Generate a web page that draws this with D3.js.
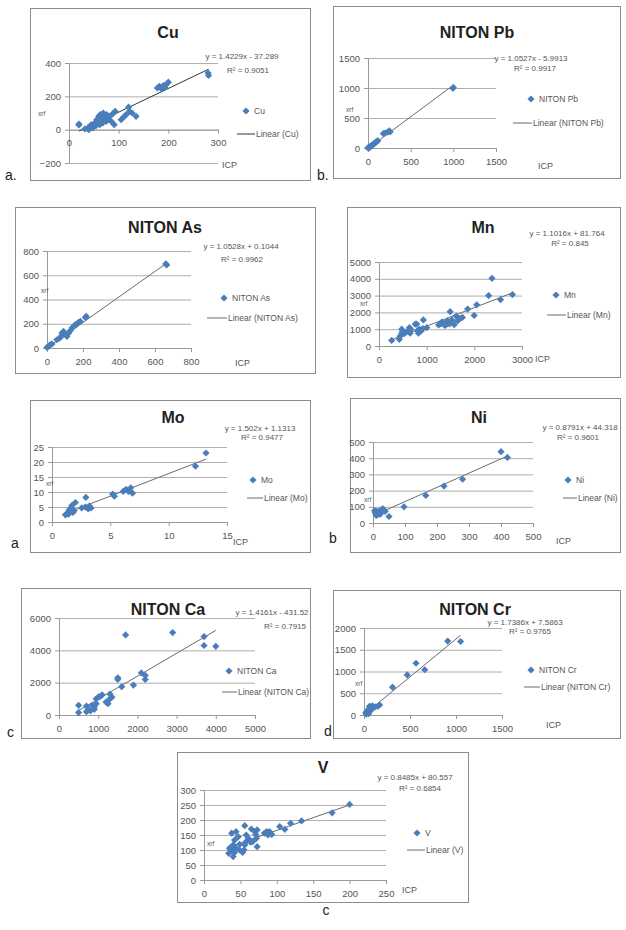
<!DOCTYPE html>
<html>
<head>
<meta charset="utf-8">
<script src="https://cdn.jsdelivr.net/npm/d3@7"></script>
<style>
  html, body { margin: 0; padding: 0; background: #fff; }
  svg { display: block; }
  text { font-family: "Liberation Sans", Arial, sans-serif; }
</style>
</head>
<body>
<svg id="fig" width="626" height="930"></svg>
<script>
// ---------- measured values: [ICP, XRF] pairs per element ----------
const cuPoints = [[20,34],[20,28],[32,4],[38,10],[40,0],[42,20],[45,30],[48,10],[50,18],[52,40],[55,25],[56,60],[58,45],[60,80],[62,30],[63,90],[65,55],[66,70],[68,40],[69,100],[72,65],[73,80],[75,50],[76,90],[78,70],[79,60],[82,80],[85,50],[88,95],[91,30],[93,110],[105,60],[110,75],[115,90],[120,135],[122,110],[127,100],[135,80],[178,250],[182,260],[186,245],[190,265],[193,255],[197,275],[200,285],[280,340],[281,325]];
const pbPoints = [[0,0],[5,8],[10,3],[15,18],[20,12],[28,25],[35,30],[45,45],[55,50],[65,65],[75,75],[85,90],[95,100],[105,115],[115,120],[180,240],[200,250],[230,265],[250,285],[260,270],[1000,1010],[995,995]];
const asPoints = [[0,5],[9,14],[18,27],[28,33],[55,68],[70,82],[80,96],[83,123],[92,137],[102,110],[111,96],[120,123],[129,142],[139,164],[148,178],[157,192],[166,197],[175,211],[185,219],[213,252],[218,260],[660,693],[665,685]];
const mnPoints = [[266,330],[427,400],[441,580],[476,760],[498,870],[476,1000],[526,730],[568,820],[617,910],[638,1090],[666,1000],[652,760],[760,1300],[792,1310],[806,910],[827,760],[848,1000],[883,900],[920,1040],[930,1550],[1002,1090],[1250,1250],[1296,1310],[1317,1420],[1338,1400],[1367,1270],[1388,1220],[1409,1360],[1423,1310],[1437,1490],[1458,1420],[1479,1310],[1493,2040],[1528,1550],[1577,1270],[1619,1780],[1647,1490],[1703,1640],[1750,1700],[1860,2200],[1997,1820],[2050,2450],[2300,3000],[2370,4030],[2550,2760],[2800,3060]];
const moPoints = [[1.15,2.4],[1.3,2.8],[1.4,2.6],[1.45,3.9],[1.55,3.3],[1.6,4.6],[1.7,3.9],[1.7,5.5],[1.8,3.2],[1.9,3.8],[2.0,6.5],[2.55,4.7],[2.85,5.0],[2.9,8.2],[3.1,4.4],[3.2,5.3],[3.35,4.7],[5.2,9.3],[5.35,8.6],[6.1,10.2],[6.35,10.9],[6.55,10.2],[6.75,11.4],[6.9,9.6],[12.3,18.6],[13.2,23.0]];
const niPoints = [[5,76],[7,62],[10,47],[12,72],[15,51],[18,62],[21,76],[23,55],[25,68],[28,82],[31,88],[35,76],[38,72],[50,40],[97,100],[165,170],[222,228],[280,270],[400,440],[420,405]];
const caPoints = [[500,600],[500,150],[700,550],[700,200],[750,350],[800,250],[850,600],[900,350],[900,500],[950,700],[950,1000],[1000,1100],[1050,1150],[1100,1250],[1200,800],[1250,700],[1300,1000],[1300,1300],[1350,1100],[1500,2300],[1500,2200],[1600,1750],[1700,4950],[1900,1850],[2100,2600],[2200,2450],[2200,2200],[2900,5100],[3700,4850],[3700,4300],[4000,4250]];
const crPoints = [[20,50],[25,20],[30,80],[35,60],[40,100],[45,120],[50,30],[60,150],[60,200],[70,180],[80,120],[90,210],[100,170],[120,190],[150,200],[170,230],[310,640],[470,920],[565,1190],[660,1040],[910,1700],[1050,1690]];
const vPoints = [[34,89],[35,106],[38,156],[38,100],[40,117],[40,78],[42,133],[42,92],[44,161],[44,106],[47,144],[49,119],[49,100],[53,92],[55,100],[56,181],[56,117],[58,150],[58,128],[61,139],[64,126],[65,170],[67,128],[70,161],[71,152],[72,139],[73,167],[73,111],[83,156],[86,161],[88,150],[90,161],[93,152],[104,178],[111,169],[119,189],[134,197],[176,224],[200,252]];

// ---------- linear fits: [slope, intercept, R²] ----------
const cuFit = [1.4229, -37.289, 0.9051];
const pbFit = [1.0527, -5.9913, 0.9917];
const asFit = [1.0528, 0.1044, 0.9962];
const mnFit = [1.1016, 81.764, 0.845];
const moFit = [1.502, 1.1313, 0.9477];
const niFit = [0.8791, 44.318, 0.9601];
const caFit = [1.4161, -431.52, 0.7915];
const crFit = [1.7386, 7.5863, 0.9765];
const vFit  = [0.8485, 80.557, 0.6854];

// ---------- axis tick values ----------
const cuTicksX = [0,100,200,300],          cuTicksY = [-200,0,200,400];
const pbTicksX = [0,500,1000,1500],        pbTicksY = [0,500,1000,1500];
const asTicksX = [0,200,400,600,800],      asTicksY = [0,200,400,600,800];
const mnTicksX = [0,1000,2000,3000],       mnTicksY = [0,1000,2000,3000,4000,5000];
const moTicksX = [0,5,10,15],              moTicksY = [0,5,10,15,20,25];
const niTicksX = [0,100,200,300,400,500],  niTicksY = [0,100,200,300,400,500];
const caTicksX = [0,1000,2000,3000,4000,5000], caTicksY = [0,2000,4000,6000];
const crTicksX = [0,500,1000,1500],        crTicksY = [0,500,1000,1500,2000];
const vTicksX  = [0,50,100,150,200,250],   vTicksY  = [0,50,100,150,200,250,300];

// ---------- panel layout (pixel geometry only) ----------
// box: frame rect; px/py: plot range in px; titleAt, eq, r2: anchors;
// leg: [markerX, markerY, lineX1, lineX2, lineY]; xrf / icp: caption anchors; tag: panel letter
const panels = [
  { title:"Cu", name:"Cu", pts:cuPoints, fit:cuFit, tx:cuTicksX, ty:cuTicksY, trend:"#333",
    box:[30,8,280,172], px:[69,218], py:[163,63], titleAt:[168,38], eq:[242,59], r2:[248,73],
    leg:[246,111,237,255,134], xrf:[38,116], icp:[222,168], tag:["a.",5,180], tagAnchor:"start" },
  { title:"NITON Pb", name:"NITON Pb", pts:pbPoints, fit:pbFit, tx:pbTicksX, ty:pbTicksY,
    box:[333,6,287,172], px:[368,496], py:[148,58], titleAt:[477,38], eq:[531,61], r2:[535,71],
    leg:[531,99,513,532,123], xrf:[346,112], icp:[538,169], tag:["b.",317,180], tagAnchor:"start" },
  { title:"NITON As", name:"NITON As", pts:asPoints, fit:asFit, tx:asTicksX, ty:asTicksY,
    box:[15,207,300,166], px:[47,191], py:[348,251], titleAt:[165,233], eq:[241,249], r2:[242,262],
    leg:[224,298,207,227,318], xrf:[41,293], icp:[235,366], tag:null },
  { title:"Mn", name:"Mn", pts:mnPoints, fit:mnFit, tx:mnTicksX, ty:mnTicksY,
    box:[347,207,273,170], px:[379,522], py:[346,262], titleAt:[483,233], eq:[567,236], r2:[570,246],
    leg:[556,295,547,566,315], xrf:[360,305.5], icp:[535,362], tag:null },
  { title:"Mo", name:"Mo", pts:moPoints, fit:moFit, tx:moTicksX, ty:moTicksY,
    box:[30,400,280,152], px:[52,227], py:[522,447], titleAt:[173,423], eq:[260,431], r2:[262,440],
    leg:[253,480,247,263,498], xrf:[46,486], icp:[233,545], tag:["a",11,548], tagAnchor:"start" },
  { title:"Ni", name:"Ni", pts:niPoints, fit:niFit, tx:niTicksX, ty:niTicksY,
    box:[350,398,270,154], px:[373,533], py:[523,442], titleAt:[479,423], eq:[580,430], r2:[578,440],
    leg:[568,480,563,577,498], xrf:[364,502], icp:[556,544], tag:["b",329,543], tagAnchor:"start" },
  { title:"NITON Ca", name:"NITON Ca", pts:caPoints, fit:caFit, tx:caTicksX, ty:caTicksY,
    box:[21,588,289,150], px:[59,255], py:[715,618], titleAt:[168,615], eq:[272,615], r2:[285,629],
    leg:[229,671,222,237,692], xrf:null, icp:null, tag:["c",7,737], tagAnchor:"start" },
  { title:"NITON Cr", name:"NITON Cr", pts:crPoints, fit:crFit, tx:crTicksX, ty:crTicksY,
    box:[333,590,287,148], px:[364,502], py:[715,628], titleAt:[475,615], eq:[525,625], r2:[530,634],
    leg:[531,670,524,540,687], xrf:[355,686], icp:[546,728], tag:["d",324,736], tagAnchor:"start" },
  { title:"V", name:"V", pts:vPoints, fit:vFit, tx:vTicksX, ty:vTicksY,
    box:[177,752,291,150], px:[204,386], py:[880,790], titleAt:[323,773], eq:[415,780], r2:[420,791],
    leg:[417,833,407,425,850], xrf:[207,846], icp:[402,893], tag:["c",326,915], tagAnchor:"middle" }
];

const BLUE = "#4a7ebb", GRID = "#9a9a9a", FRAME = "#8c8c8c", TXT = "#555", TREND = "#6b6b6b";
const fig = d3.select("#fig");
fig.append("rect").attr("width", 626).attr("height", 930).attr("fill", "#fff");

const diamond = d3.symbol().type(d3.symbolSquare).size(26);
const plain = d3.format("");
const fmtEq = f => `y = ${f[0]}x ${f[1] < 0 ? "-" : "+"} ${Math.abs(f[1])}`;

panels.forEach(p => {
  const g = fig.append("g");
  const [bx, by, bw, bh] = p.box;
  g.append("rect").attr("x", bx + 0.5).attr("y", by + 0.5).attr("width", bw).attr("height", bh)
    .attr("fill", "#fff").attr("stroke", FRAME).attr("stroke-width", 1);

  const x = d3.scaleLinear().domain([p.tx[0], p.tx[p.tx.length - 1]]).range(p.px);
  const y = d3.scaleLinear().domain([p.ty[0], p.ty[p.ty.length - 1]]).range(p.py);
  const w = p.px[1] - p.px[0];

  // horizontal gridlines + y tick labels
  const yAxis = g.append("g").attr("transform", `translate(${p.px[0]},0)`)
    .call(d3.axisLeft(y).tickValues(p.ty).tickFormat(plain).tickSizeInner(-w).tickSizeOuter(0).tickPadding(8));
  yAxis.select(".domain").attr("stroke", GRID);
  yAxis.selectAll(".tick line").attr("stroke", GRID).attr("stroke-width", 0.8);
  yAxis.selectAll(".tick text").attr("fill", TXT).attr("font-size", 9.5);
  // short outside tick marks on the y axis
  g.append("g").attr("transform", `translate(${p.px[0]},0)`)
    .call(d3.axisLeft(y).tickValues(p.ty).tickSize(4).tickFormat(""))
    .call(s => { s.select(".domain").remove(); s.selectAll("line").attr("stroke", GRID); });

  // x axis at value 0
  const xAxis = g.append("g").attr("transform", `translate(0,${y(0)})`)
    .call(d3.axisBottom(x).tickValues(p.tx).tickFormat(plain).tickSize(4).tickSizeOuter(0).tickPadding(6));
  xAxis.select(".domain").attr("stroke", GRID);
  xAxis.selectAll(".tick line").attr("stroke", GRID);
  xAxis.selectAll(".tick text").attr("fill", TXT).attr("font-size", 9.5);

  // trendline over the data range
  const xs = d3.extent(p.pts, d => d[0]);
  const trend = p.trend || TREND;
  g.append("line")
    .attr("x1", x(xs[0])).attr("y1", y(p.fit[0] * xs[0] + p.fit[1]))
    .attr("x2", x(xs[1])).attr("y2", y(p.fit[0] * xs[1] + p.fit[1]))
    .attr("stroke", trend).attr("stroke-width", 1);

  // data markers
  g.append("g").selectAll("path").data(p.pts).join("path")
    .attr("d", diamond)
    .attr("transform", d => `translate(${x(d[0])},${y(d[1])}) rotate(45)`)
    .attr("fill", BLUE);

  // title
  g.append("text").attr("x", p.titleAt[0]).attr("y", p.titleAt[1]).attr("text-anchor", "middle")
    .attr("font-size", 16).attr("font-weight", "bold").attr("fill", "#222").text(p.title);

  // equation and R²
  g.append("text").attr("x", p.eq[0]).attr("y", p.eq[1]).attr("text-anchor", "middle")
    .attr("font-size", 8).attr("fill", TXT).text(fmtEq(p.fit));
  g.append("text").attr("x", p.r2[0]).attr("y", p.r2[1]).attr("text-anchor", "middle")
    .attr("font-size", 8).attr("fill", TXT).text(`R² = ${p.fit[2]}`);

  // legend
  const [mx, my, lx1, lx2, ly] = p.leg;
  g.append("path").attr("d", diamond).attr("transform", `translate(${mx},${my}) rotate(45)`).attr("fill", BLUE);
  g.append("text").attr("x", mx + 8).attr("y", my + 3).attr("font-size", 8.5).attr("fill", TXT).text(p.name);
  g.append("line").attr("x1", lx1).attr("x2", lx2).attr("y1", ly).attr("y2", ly)
    .attr("stroke", trend).attr("stroke-width", 1);
  g.append("text").attr("x", lx2 + 1).attr("y", ly + 3).attr("font-size", 8.5).attr("fill", TXT)
    .text(`Linear (${p.name})`);

  // axis captions
  if (p.xrf) g.append("text").attr("x", p.xrf[0]).attr("y", p.xrf[1]).attr("font-size", 6.5)
    .attr("fill", TXT).text("xrf");
  if (p.icp) g.append("text").attr("x", p.icp[0]).attr("y", p.icp[1]).attr("font-size", 9)
    .attr("fill", TXT).text("ICP");

  // panel letter
  if (p.tag) fig.append("text").attr("x", p.tag[1]).attr("y", p.tag[2])
    .attr("text-anchor", p.tagAnchor).attr("font-family", "Liberation Serif, serif")
    .attr("font-size", 14).attr("fill", "#222").text(p.tag[0]);
});
</script>
</body>
</html>
